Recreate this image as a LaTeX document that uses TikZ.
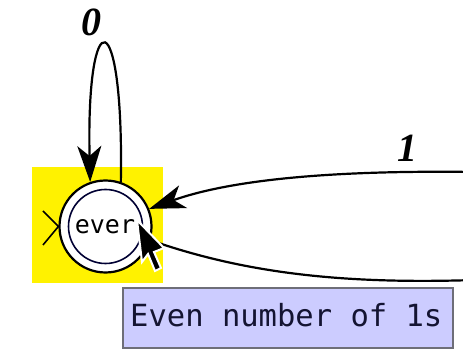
\documentclass[tikz,border=0pt]{standalone}
\usepackage{fontspec}
\setmainfont{Liberation Serif}
\newfontfamily\monofnt{DejaVu Sans Mono}
\usetikzlibrary{arrows.meta}
\definecolor{tipfill}{RGB}{204,204,255}
\definecolor{tipborder}{RGB}{110,110,120}
\definecolor{tiptext}{RGB}{20,20,50}
\tikzset{
  edge/.style={line width=2.2pt, -{Stealth[length=36pt,width=24pt,inset=10pt]}},
  plainedge/.style={line width=2.2pt},
  lbl/.style={font=\fontsize{40}{40}\selectfont\bfseries\itshape, inner sep=0pt},
  state/.style={circle, draw, line width=2.2pt, fill=white, minimum size=92pt, inner sep=0pt},
}
\begin{document}
\begin{tikzpicture}[x=1pt,y=-1pt]
\useasboundingbox (0,0) rectangle (463,352);
\clip (0,0) rectangle (463,352);
% highlight
\fill[yellow] (32,167) rectangle (163,283);
% state
\node[state] (q) at (105.5,226.5) {};
\draw[line width=1.6pt, color=black!80!blue] (q.center) circle[radius=37pt];
\node[font=\monofnt\fontsize{25}{25}\selectfont, inner sep=0pt] (qt) at (105,227) {ever};
% initial marker
\coordinate (i1) at (43,211);
\coordinate (i2) at (43,245);
\draw[line width=1.6pt] (i1) -- (q.west) -- (i2);
% self loop
\draw[edge] (q.71) .. controls (124,0) and (86,0) .. (q.109);
\node[lbl] (l0) at (91,22) {0};
% incoming edge labelled 1
\coordinate (r1) at (475,172);
\draw[edge] (r1) .. controls (330,170) and (230,180) .. (q.22);
\node[lbl] (l1) at (407,148) {1};
% outgoing edge
\coordinate (r2) at (475,280);
\draw[plainedge] (q.-17) .. controls (250,275) and (350,284) .. (r2);
% cursor
\draw[fill=black, draw=white, line width=2pt, line join=miter]
  (137,220) -- (142,262) -- (148,254) -- (155,271) -- (161,268) -- (154,252) -- (164,248) -- cycle;
% tooltip
\node[draw=tipborder, fill=tipfill, line width=1.2pt, minimum width=330pt, minimum height=60pt, inner sep=0pt] (tip) at (288,318) {};
\node[font=\monofnt\fontsize{30.5}{30}\selectfont, text=tiptext, anchor=base west, inner sep=0pt] (tipt) at (130,327) {Even number of 1s};
\end{tikzpicture}
\end{document}
